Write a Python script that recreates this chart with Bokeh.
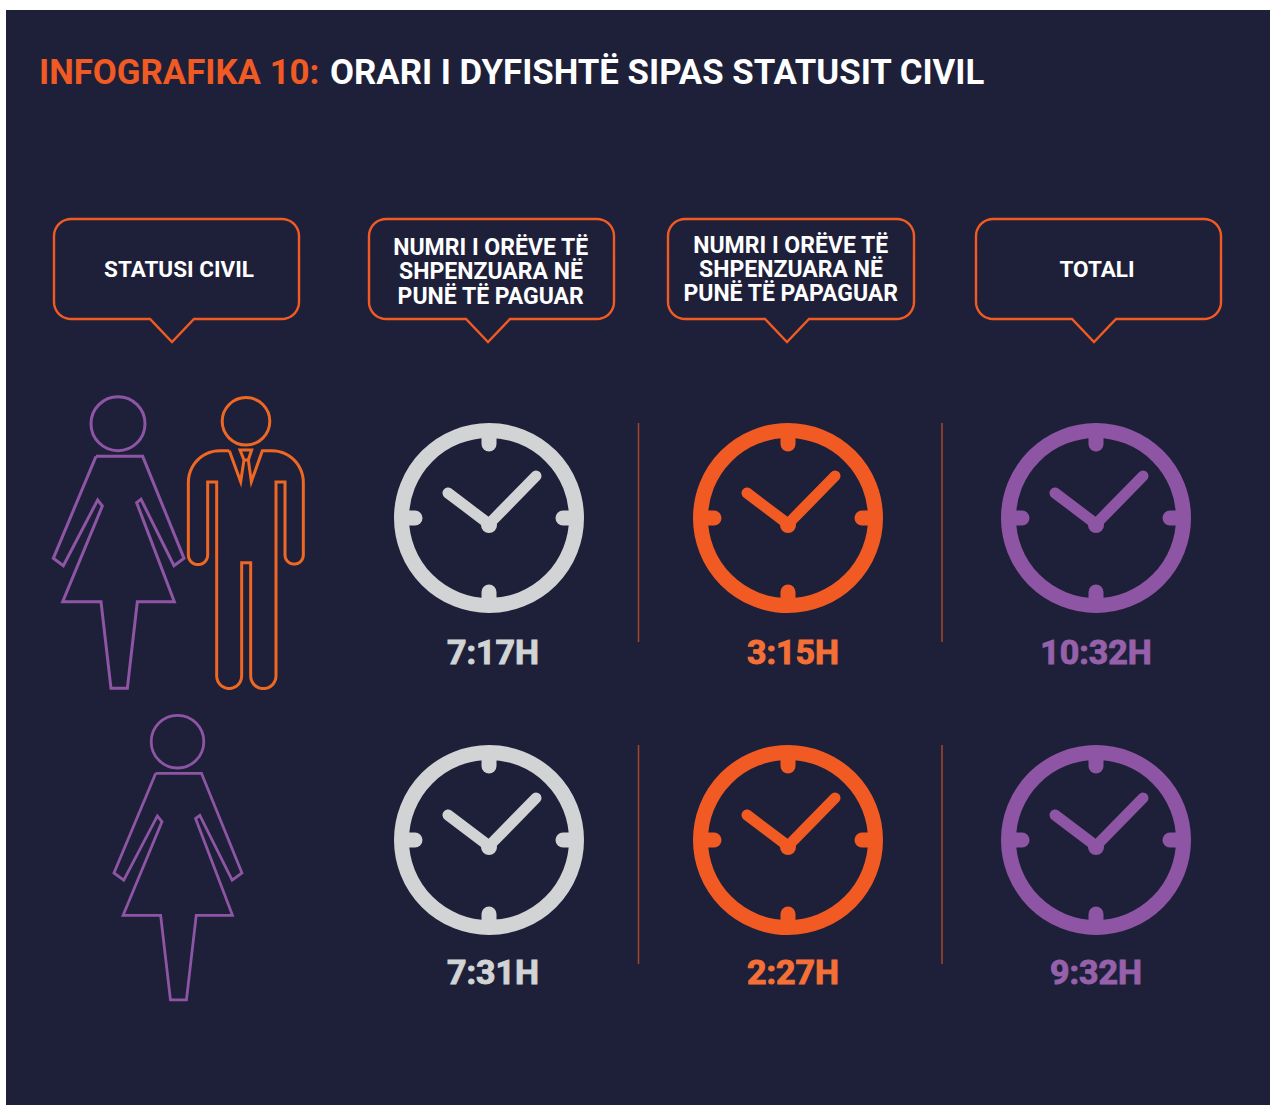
import numpy as np
from bokeh.plotting import figure
from bokeh.embed import file_html
from bokeh.resources import INLINE
from bokeh.core.properties import value

# ---- content
title_parts = ["INFOGRAFIKA 10:", "ORARI I DYFISHTË SIPAS STATUSIT CIVIL"]
headers = [["STATUSI CIVIL"],
           ["NUMRI I ORËVE TË", "SHPENZUARA NË", "PUNË TË PAGUAR"],
           ["NUMRI I ORËVE TË", "SHPENZUARA NË", "PUNË TË PAPAGUAR"],
           ["TOTALI"]]
paid_work = ["7:17H", "7:31H"]
unpaid_work = ["3:15H", "2:27H"]
total_work = ["10:32H", "9:32H"]

# ---- palette
BG = "#1e2039"
ORANGE = "#f15a22"
MAN = "#ee6723"
PURPLE = "#8e55a5"
GREY = "#d1d3d4"
FONT = value("Roboto")

W, H = 1270, 1105
p = figure(width=W, height=H, x_range=(0.5, W + 0.5), y_range=(H + 0.5, 0.5),
           toolbar_location=None, output_backend="svg", min_border=0,
           background_fill_color="white", border_fill_color="white",
           outline_line_color=None)
p.axis.visible = False
p.grid.visible = False
p.quad(left=[6], right=[1271], top=[10], bottom=[1106], fill_color=BG, line_color=None)


def txt(x, y, s, color, size, align="center", style="bold", outline=None):
    p.text([x], [y], text=[s], text_color=color, text_font=FONT, text_font_size=f"{size}px",
           text_font_style=style, text_align=align, text_baseline="middle",
           text_outline_color=outline)


# ---- title
txt(39, 71.5, title_parts[0], ORANGE, 34.8, "left")
txt(330, 71.5, title_parts[1], "white", 34.8, "left")


# ---- callouts
def arc(cx, cy, r, a0, a1, n=10):
    t = np.radians(np.linspace(a0, a1, n))
    return cx + r * np.cos(t), cy + r * np.sin(t)


def callout(x0, x1, tx):
    y0, y1, r = 219, 319, 17
    parts = [arc(x0 + r, y0 + r, r, 180, 270), arc(x1 - r, y0 + r, r, 270, 360),
             arc(x1 - r, y1 - r, r, 0, 90),
             (np.array([tx + 22, tx, tx - 22]), np.array([y1, 342, y1])),
             arc(x0 + r, y1 - r, r, 90, 180)]
    xs = np.concatenate([a[0] for a in parts] + [[x0]])
    ys = np.concatenate([a[1] for a in parts] + [[y0 + r]])
    p.line(xs, ys, line_color=ORANGE, line_width=2.4, line_join="miter")


box_x = [(54, 299, 172), (369, 614, 488), (668, 914, 787), (976, 1221, 1094)]
header_x = [179, 491, 791, 1097]
header_y = [[269], [247, 271, 296], [245, 269, 293], [269]]
header_size = [22.5, 23, 23, 22.5]
for (a, b, t), hx, hy, lines, hs in zip(box_x, header_x, header_y, headers, header_size):
    callout(a, b, t)
    for y, s in zip(hy, lines):
        txt(hx, y, s, "white", hs)


# ---- clocks
def clock(cx, cy, color):
    p.circle([cx], [cy], radius=87.5, fill_color=None, line_color=color, line_width=15)
    seg = [([cx, cx], [cy - 85, cy - 74]), ([cx, cx], [cy + 85, cy + 74]),
           ([cx - 85, cx - 74], [cy, cy]), ([cx + 85, cx + 74], [cy, cy])]
    for xs, ys in seg:
        p.line(xs, ys, line_color=color, line_width=15, line_cap="round")
    p.line([cx - 41, cx, cx + 47], [cy - 25, cy + 6, cy - 42], line_color=color, line_width=11,
           line_cap="round", line_join="round")
    p.circle([cx], [cy + 7], radius=8, fill_color=color, line_color=None)


clock_x = [489, 788, 1096]
clock_y = [518, 840]
clock_c = [GREY, ORANGE, PURPLE]
label_x = [493, 793, 1096]
label_y = [651.5, 971.5]
label_c = [GREY, "#f47036", "#9660aa"]
for j, vals in enumerate([paid_work, unpaid_work, total_work]):
    for i, s in enumerate(vals):
        clock(clock_x[j], clock_y[i], clock_c[j])
        txt(label_x[j], label_y[i], s, label_c[j], 34, outline=label_c[j])

for x in [638.5, 942]:
    for y0, y1 in [(423, 642), (745, 964)]:
        p.line([x, x], [y0, y1], line_color="#a5472c", line_width=1.5)

# ---- woman (outline in 3x-zoom local units)
wx = [198, 338, 462, 432, 333, 320, 433, 322, 292, 243, 213, 98, 217, 203, 100, 70, 198]
wy = [229, 229, 535, 557, 358, 368, 665, 665, 925, 925, 665, 665, 378, 360, 557, 535, 229]


def woman(ox, oy, sx, sy, hx, hy, hr, lw):
    p.line(ox + np.array(wx) * sx, oy + np.array(wy) * sy, line_color=PURPLE, line_width=lw,
           line_join="miter")
    p.circle([hx], [hy], radius=hr, fill_color=None, line_color=PURPLE, line_width=lw)


woman(30, 380, 1 / 3, 1 / 3, 118, 423.7, 27, 3)
woman(91.1, 698.7, 0.3265, 0.3257, 177.5, 741.7, 26.3, 2.8)


# ---- man
def man():
    def A(cx, cy, r, a0, a1):
        return arc(cx, cy, r, a0, a1, 14)
    pts = [
        (np.array([598, 570]), np.array([212, 212])),
        A(570, 307, 95, 270, 180),
        (np.array([475, 475]), np.array([307, 525])),
        A(504, 525, 29, 180, 0),
        (np.array([533, 533, 560, 560]), np.array([525, 306, 306, 888])),
        A(597.5, 888, 37.5, 180, 0),
        (np.array([635, 635, 662, 662]), np.array([888, 548, 548, 888])),
        A(700, 888, 38, 180, 0),
        (np.array([738, 738, 765, 765]), np.array([888, 306, 306, 525])),
        A(792.5, 525, 27.5, 180, 0),
        (np.array([820, 820]), np.array([525, 307])),
        A(725, 307, 95, 0, -90),
        (np.array([725, 697, 664, 655, 665, 630, 642, 632, 598]),
         np.array([212, 212, 305, 240, 210, 210, 240, 305, 212])),
    ]
    xs = np.concatenate([a[0] for a in pts]) / 3 + 30
    ys = np.concatenate([a[1] for a in pts]) / 3 + 380
    return xs, ys


mx, my = man()
p.line(mx, my, line_color=MAN, line_width=3, line_join="miter")
p.line(np.array([642, 655]) / 3 + 30, np.array([240, 240]) / 3 + 380, line_color=MAN, line_width=3)
p.circle([246], [421.3], radius=23.8, fill_color=None, line_color=MAN, line_width=3)

open("out.html", "w").write(file_html(p, INLINE))
